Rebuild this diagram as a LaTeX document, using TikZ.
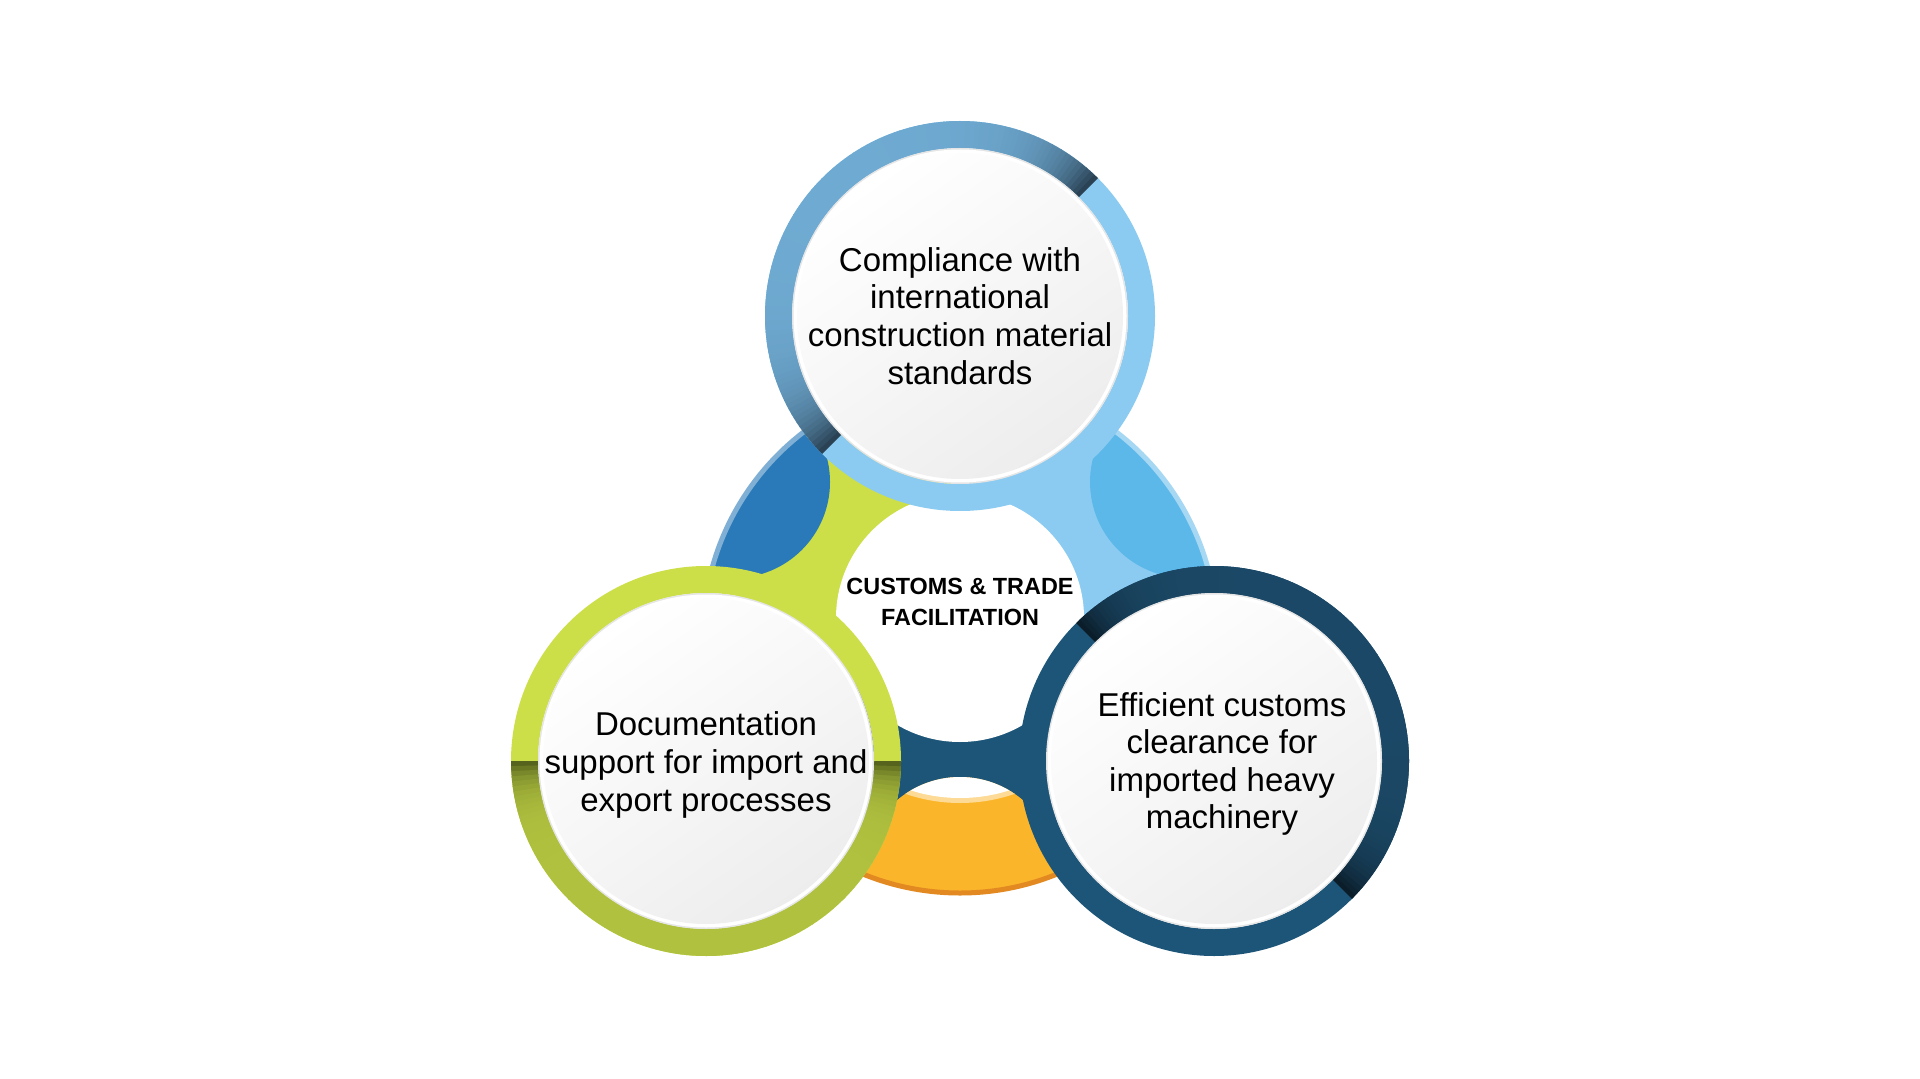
\documentclass[tikz,border=0pt]{standalone}
\usepackage{fontspec}
\setmainfont{Liberation Sans}
\usepackage{xcolor}
\usepackage{tikz}
\definecolor{topring}{HTML}{8BCBF1}
\definecolor{topshade}{HTML}{6FAAD2}
\definecolor{topdark}{HTML}{2A4254}
\definecolor{leftring}{HTML}{CDDF48}
\definecolor{leftshade}{HTML}{B0C13F}
\definecolor{leftdark}{HTML}{56631D}
\definecolor{rightring}{HTML}{1D5578}
\definecolor{rightshade}{HTML}{1B4866}
\definecolor{rightdark}{HTML}{0B1D29}
\definecolor{lensblue}{HTML}{2A7AB9}
\definecolor{lenssky}{HTML}{5DB8EA}
\definecolor{lensorange}{HTML}{FBB52B}

\begin{document}
\begin{tikzpicture}[
    x=0.5pt, y=0.5pt,
    ringtext/.style={align=center, font=\fontsize{16.5}{18.8}\selectfont},
    hubtext/.style={align=center, font=\bfseries\fontsize{11.7}{15.5}\selectfont},
    disc/.style={shading=axis, top color=white, bottom color=black!7, shading angle=35}
]
    \fill[white] (0,0) rectangle (1920,1078);
    \useasboundingbox (0,0) rectangle (1920,1078);

    % Centres
    \coordinate (T) at (960,762);
    \coordinate (L) at (706,317);
    \coordinate (R) at (1214,317);
    \coordinate (O) at (960,465);
    \coordinate (B) at (960,442);
    \coordinate (H) at (960,460);
    \coordinate (Cul) at (734,596);
    \coordinate (Cur) at (1186,596);
    \coordinate (Cb) at (960,204);

    % Bridges
    \fill[leftring] (O) -- ++(90:225) arc[start angle=90, end angle=210, radius=225] -- cycle;
    \fill[topring] (O) -- ++(-30:225) arc[start angle=-30, end angle=90, radius=225] -- cycle;
    \fill[rightring] (O) -- ++(210:225) arc[start angle=210, end angle=330, radius=225] -- cycle;

    % Lenses
    \begin{scope}
        \clip (Cul) circle (96);
        \fill[lensblue] (B) circle (257);
        \draw[lensblue!60!white, line width=2.5] (B) circle (257);
    \end{scope}
    \begin{scope}
        \clip (Cur) circle (96);
        \fill[lenssky] (B) circle (257);
        \draw[lenssky!55!white, line width=2.5] (B) circle (257);
    \end{scope}
    \begin{scope}
        \clip (Cb) circle (97);
        \fill[lensorange] (B) circle (257);
        \draw[lensorange!85!red!90!black, line width=2.5] (B) circle (257);
        \draw[lensorange!50!white, line width=3] (B) circle (164);
        \fill[white] (B) circle (162);
    \end{scope}

    % Hub
    \fill[white] (H) circle (124);

    % Rings
    \foreach \c/\s/\lite/\base/\dark/\k in {T/45/topring/topshade/topdark/13, L/180/leftring/leftshade/leftdark/6, R/-45/rightring/rightshade/rightdark/10} {
        \fill[\lite, even odd rule] (\c) circle (195) (\c) circle (168);
        \foreach \a in {0,1.5,...,178.5} {
            \pgfmathsetmacro\t{100*exp(-min(\a,178.5-\a)/\k)}
            \pgfmathsetmacro\e{min(\a+1.8,180)}
            \fill[\dark!\t!\base, shift={(\c)}] (\s+\a:195) arc[start angle=\s+\a, end angle=\s+\e, radius=195]
                -- (\s+\e:168) arc[start angle=\s+\e, end angle=\s+\a, radius=168] -- cycle;
        }
        \fill[black!10] (\c) circle (168);
        \fill[white] (\c) circle (166.5);
        \shade[disc] (\c) circle (163);
    }

    % Texts
    \node[ringtext] (comply) at (T) {Compliance with\\international\\construction material\\standards};
    \node[ringtext] (docs) at (706,313) {Documentation\\support for import and\\export processes};
    \node[ringtext] (clear) at (1222,314) {Efficient customs\\clearance for\\imported heavy\\machinery};
    \node[hubtext] (hub) at (960,476) {CUSTOMS \& TRADE\\FACILITATION};
\end{tikzpicture}
\end{document}
